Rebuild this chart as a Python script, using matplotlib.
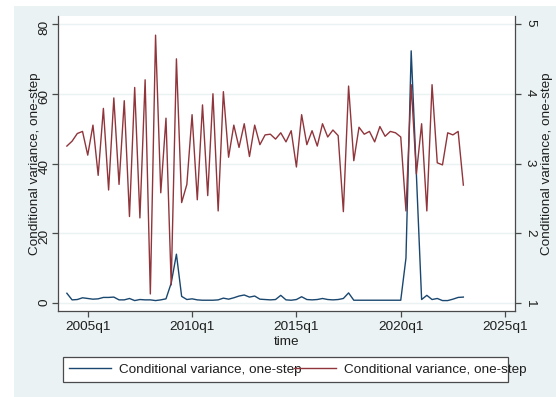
import matplotlib.pyplot as plt
from matplotlib.patches import Rectangle

# quarterly dates as Stata %tq numbers (2004q1 = 176 ... 2023q1 = 252)
START_Q = 176
X_TICKS = [180, 200, 220, 240, 260]
X_TICK_LABELS = ["2005q1", "2010q1", "2015q1", "2020q1", "2025q1"]

LEFT_TICKS = [0, 20, 40, 60, 80]
RIGHT_TICKS = [1, 2, 3, 4, 5]

# series 1 (left axis)
cv_left = [
    2.8, 0.9, 1.0, 1.5, 1.3, 1.1, 1.2, 1.6, 1.6, 1.7,
    0.9, 0.9, 1.3, 0.7, 1.0, 0.9, 0.9, 0.7, 0.9, 1.2,
    5.7, 14.0, 1.9, 1.0, 1.2, 0.9, 0.8, 0.8, 0.8, 0.9,
    1.4, 1.1, 1.5, 2.0, 2.3, 1.7, 2.0, 1.1, 1.0, 0.9,
    1.0, 2.2, 0.9, 0.8, 1.0, 1.8, 1.0, 0.9, 1.0, 1.3,
    1.0, 0.9, 1.0, 1.3, 2.9, 0.8, 0.8, 0.8, 0.8, 0.8,
    0.8, 0.8, 0.8, 0.8, 0.8, 12.9, 72.3, 36.8, 1.0, 2.2,
    1.0, 1.3, 0.7, 0.7, 1.1, 1.6, 1.7,
]

# series 2 (right axis)
cv_right = [
    3.25, 3.32, 3.43, 3.46, 3.12, 3.55, 2.83, 3.79, 2.62, 3.94,
    2.70, 3.90, 2.24, 4.09, 2.22, 4.20, 1.13, 4.84, 2.58, 3.65,
    1.26, 4.50, 2.44, 2.70, 3.70, 2.48, 3.84, 2.54, 4.00, 2.32,
    4.03, 3.09, 3.55, 3.23, 3.57, 3.10, 3.55, 3.27, 3.41, 3.42,
    3.35, 3.44, 3.31, 3.47, 2.95, 3.70, 3.27, 3.47, 3.25, 3.57,
    3.38, 3.48, 3.40, 2.31, 4.11, 3.04, 3.52, 3.42, 3.46, 3.31,
    3.53, 3.39, 3.46, 3.44, 3.38, 2.32, 4.13, 2.85, 3.57, 2.32,
    4.13, 3.01, 2.98, 3.44, 3.41, 3.46, 2.69,
]

LABEL = "Conditional variance, one-step"

NAVY = "#1A476F"
MAROON = "#90353B"
BG = "#EAF2F3"
AXIS_C = "#4a4a4a"
TEXT_C = "#1e1e1e"
FS = 9.7

plt.rcParams["font.family"] = ["Liberation Sans", "DejaVu Sans"]

W, H = 556, 397
fig = plt.figure(figsize=(W / 100, H / 100), dpi=100)
fig.patch.set_facecolor("white")

# stata-like graph region, kept behind the axes
fig.patches.append(Rectangle((14 / W, 0), (W - 14) / W, (H - 6) / H,
                             transform=fig.transFigure, facecolor=BG,
                             edgecolor="none", zorder=-10))

quarters = list(range(START_Q, START_Q + len(cv_left)))

ax = fig.add_axes([58 / W, 1 - 311 / H, 457 / W, 295 / H])
ax.set_facecolor("white")
ax.plot(quarters, cv_left, color=NAVY, lw=1.0, label=LABEL)

ax2 = ax.twinx()
ax2.plot(quarters, cv_right, color=MAROON, lw=1.0, label=LABEL)

ylo, yhi = -2.29, 82.29
ax.set_ylim(ylo, yhi)
ax2.set_ylim(1 + ylo / 20, 1 + yhi / 20)
ax.set_xlim(174.3, 261.9)

ax.set_xticks(X_TICKS)
ax.set_xticklabels(X_TICK_LABELS)
ax.set_yticks(LEFT_TICKS)
ax2.set_yticks(RIGHT_TICKS)

ax.set_axisbelow(True)
ax.yaxis.grid(True, color=BG, lw=1.0)

for a in (ax, ax2):
    a.spines["top"].set_visible(False)
    for s in a.spines.values():
        s.set_color(AXIS_C)
        s.set_linewidth(0.9)
ax.spines["right"].set_visible(False)
ax2.spines["left"].set_visible(False)
ax2.spines["bottom"].set_visible(False)

ax.tick_params(axis="x", length=4, width=0.9, color=AXIS_C, pad=3.5,
               labelsize=FS, labelcolor=TEXT_C)
ax.tick_params(axis="y", length=4, width=0.9, color=AXIS_C, pad=1.5,
               labelsize=FS, labelcolor=TEXT_C, labelrotation=90)
ax2.tick_params(axis="y", length=4, width=0.9, color=AXIS_C, pad=2.5,
                labelsize=FS, labelcolor=TEXT_C, labelrotation=-90)

ax.set_xlabel("time", fontsize=FS, color=TEXT_C, va="center")
ax.xaxis.set_label_coords(0.5, (311 - 342) / 295)
ax.set_ylabel(LABEL, fontsize=FS, color=TEXT_C, va="center", ha="center")
ax.yaxis.set_label_coords((35 - 58) / 457, 0.5)
ax2.set_ylabel(LABEL, fontsize=FS, color=TEXT_C, va="center", ha="center",
               rotation=90)
ax2.yaxis.set_label_coords((547 - 58) / 457, 0.5)

# legend box, drawn separately so the text can spill over like the original
fig.patches.append(Rectangle((63 / W, 1 - 382 / H), 445 / W, 25 / H,
                             transform=fig.transFigure, facecolor="white",
                             edgecolor=AXIS_C, lw=0.9, zorder=1))
handles = ax.get_lines() + ax2.get_lines()
fig.legend(handles, [h.get_label() for h in handles], ncol=2,
           loc="center left", bbox_to_anchor=(69 / W, 1 - 369.5 / H),
           frameon=False, fontsize=FS, handlelength=3.1, handletextpad=0.6,
           columnspacing=-0.52, borderpad=0, borderaxespad=0,
           labelcolor=TEXT_C)

fig.savefig("out.png", dpi=100)
